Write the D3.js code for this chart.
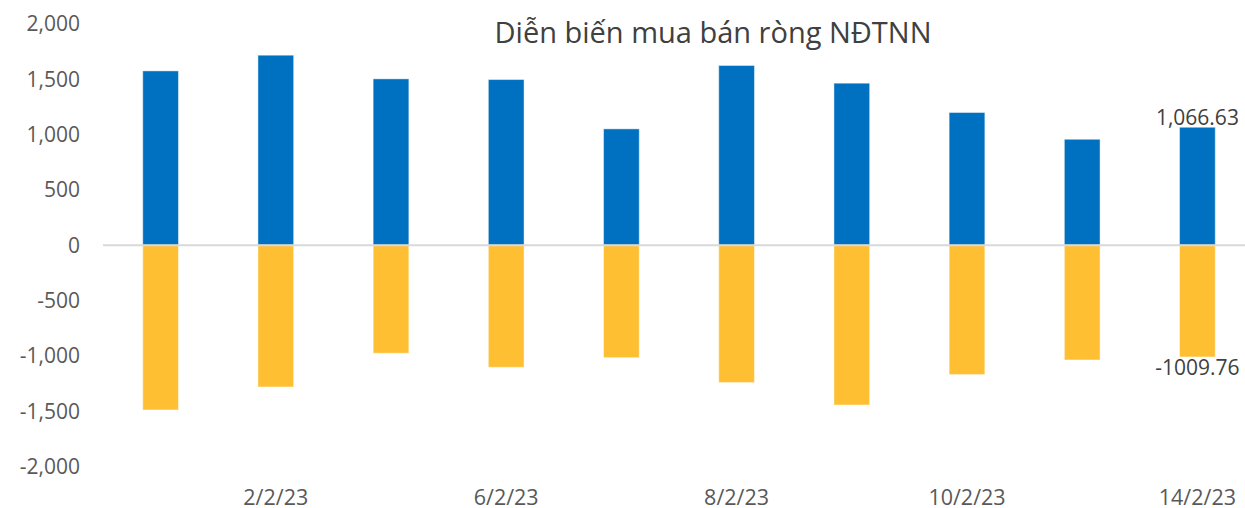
<!DOCTYPE html>
<html>
<head>
<meta charset="utf-8">
<script src="https://cdn.jsdelivr.net/npm/d3@7"></script>
<style>
  body { margin: 0; background: #fff; }
  svg { display: block; font-family: 'Open Sans', sans-serif; }
</style>
</head>
<body>
<svg width="1245" height="508"></svg>
<script>
const dates = ['1/2/23', '2/2/23', '3/2/23', '6/2/23', '7/2/23', '8/2/23', '9/2/23', '10/2/23', '13/2/23', '14/2/23'];
const buyValues = [1576, 1718, 1504, 1498, 1052, 1625, 1465, 1200, 958, 1066.63];
const sellValues = [-1489, -1281, -976, -1103, -1016, -1241, -1444, -1169, -1037, -1009.76];
const shownDates = ['2/2/23', '6/2/23', '8/2/23', '10/2/23', '14/2/23'];
const yTicks = [-2000, -1500, -1000, -500, 0, 500, 1000, 1500, 2000];

const svg = d3.select('svg');

const x = d3.scaleBand().domain(dates).range([103, 1255]).paddingInner(0.69).paddingOuter(0.345);
const y = d3.scaleLinear().domain([-2000, 2000]).range([466.5, 24]);

// title
svg.append('text')
    .attr('x', 713)
    .attr('y', 43)
    .attr('text-anchor', 'middle')
    .style('font-size', '29px')
    .style('fill', '#404040')
    .text('Diễn biến mua bán ròng NĐTNN');

// y axis labels
svg.append('g').selectAll('text')
    .data(yTicks)
    .enter()
    .append('text')
    .attr('x', 80)
    .attr('y', d => y(d))
    .attr('dy', '0.35em')
    .attr('text-anchor', 'end')
    .style('font-size', '21px')
    .style('fill', '#595959')
    .text(d => d3.format(',')(d).replace('−', '-'));

// bars
svg.append('g').selectAll('rect')
    .data(buyValues)
    .enter()
    .append('rect')
    .attr('x', (d, i) => x(dates[i]))
    .attr('width', x.bandwidth())
    .attr('y', d => y(d))
    .attr('height', d => y(0) - y(d))
    .attr('fill', '#0070C0')
    .attr('stroke', '#ffffff')
    .attr('stroke-opacity', 0.45)
    .attr('stroke-width', 1);

svg.append('g').selectAll('rect')
    .data(sellValues)
    .enter()
    .append('rect')
    .attr('x', (d, i) => x(dates[i]))
    .attr('width', x.bandwidth())
    .attr('y', y(0))
    .attr('height', d => y(d) - y(0))
    .attr('fill', '#FFBF33')
    .attr('stroke', '#ffffff')
    .attr('stroke-opacity', 0.45)
    .attr('stroke-width', 1);

// zero line
svg.append('line')
    .attr('x1', 103)
    .attr('x2', 1245)
    .attr('y1', y(0))
    .attr('y2', y(0))
    .attr('stroke', '#D9D9D9')
    .attr('stroke-width', 2);

// x labels
svg.append('g').selectAll('text')
    .data(shownDates)
    .enter()
    .append('text')
    .attr('x', d => x(d) + x.bandwidth() / 2)
    .attr('y', 497)
    .attr('dy', '0.35em')
    .attr('text-anchor', 'middle')
    .style('font-size', '21.5px')
    .style('fill', '#595959')
    .text(d => d);

// data labels on the last day
const last = dates.length - 1;
svg.append('text')
    .attr('x', x(dates[last]) + x.bandwidth() / 2)
    .attr('y', y(buyValues[last]) - 10)
    .attr('dy', '0.35em')
    .attr('text-anchor', 'middle')
    .style('font-size', '21px')
    .style('fill', '#404040')
    .text(d3.format(',.2f')(buyValues[last]));

svg.append('text')
    .attr('x', x(dates[last]) + x.bandwidth() / 2)
    .attr('y', y(sellValues[last]) + 11)
    .attr('dy', '0.35em')
    .attr('text-anchor', 'middle')
    .style('font-size', '21px')
    .style('fill', '#404040')
    .text(sellValues[last].toFixed(2));
</script>
</body>
</html>
